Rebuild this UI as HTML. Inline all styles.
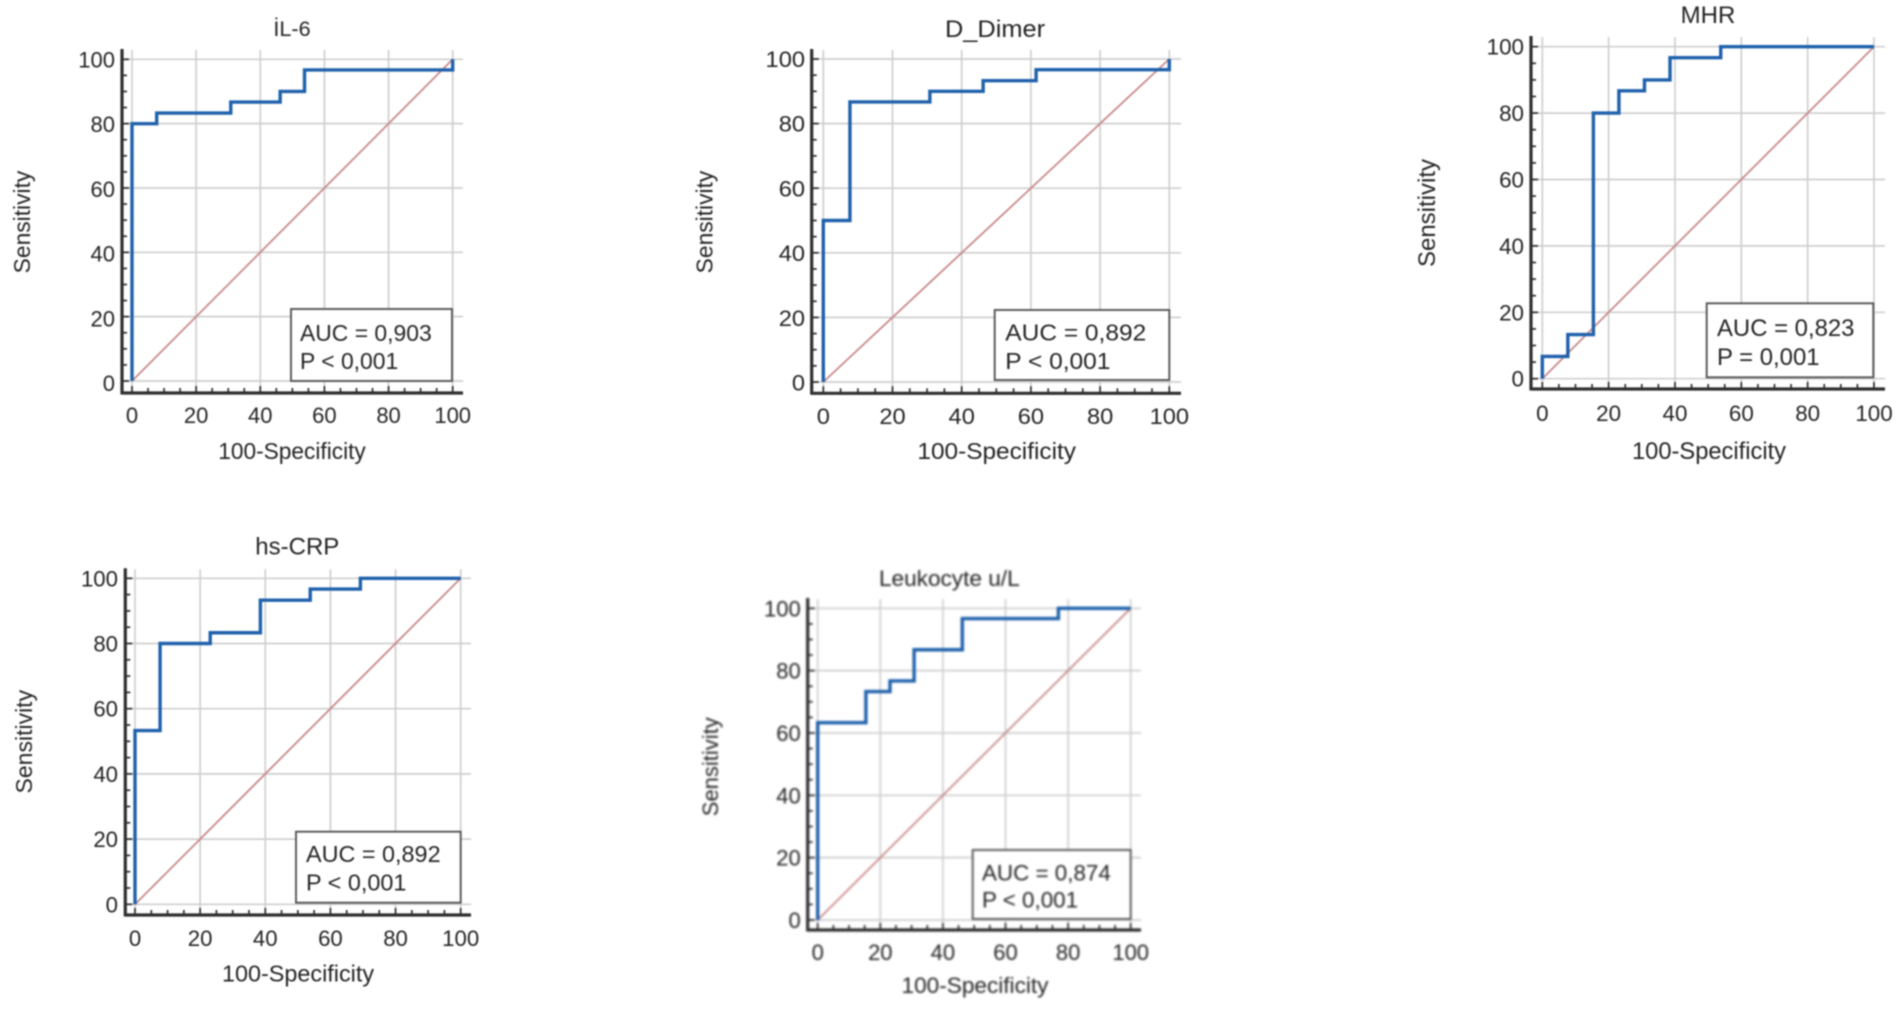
<!DOCTYPE html>
<html lang="en">
<head>
<meta charset="utf-8">
<title>ROC curves</title>
<style>
html,body{margin:0;padding:0;background:#fff;width:1902px;height:1010px;overflow:hidden}
#figure{display:block}
text{font-family:"Liberation Sans",Arial,sans-serif;fill:#242424}
</style>
</head>
<body>
<svg id="figure" xmlns="http://www.w3.org/2000/svg" width="1902" height="1010" viewBox="0 0 1902 1010"></svg>
<script>
// Data
const xTickLabels = [0, 20, 40, 60, 80, 100];
const yTickLabels = [0, 20, 40, 60, 80, 100];
const xAxisTitle = "100-Specificity";
const yAxisTitle = "Sensitivity";

const il6Fpr = [0, 7.7, 30.8, 46.2, 53.8, 100];
const il6Sens = [80, 83.3, 86.7, 90, 96.7, 100];
const dimerFpr = [0, 7.7, 30.8, 46.2, 61.5, 100];
const dimerSens = [50, 86.7, 90, 93.3, 96.7, 100];
const mhrFpr = [0, 7.7, 15.4, 23.1, 30.8, 38.5, 53.8];
const mhrSens = [6.7, 13.3, 80, 86.7, 90, 96.7, 100];
const crpFpr = [0, 7.7, 23.1, 38.5, 53.8, 69.2];
const crpSens = [53.3, 80, 83.3, 93.3, 96.7, 100];
const leukFpr = [0, 15.4, 23.1, 30.8, 46.2, 76.9];
const leukSens = [63.3, 73.3, 76.7, 86.7, 96.7, 100];

const il6Stats = ["AUC = 0,903", "P < 0,001"];
const dimerStats = ["AUC = 0,892", "P < 0,001"];
const mhrStats = ["AUC = 0,823", "P = 0,001"];
const crpStats = ["AUC = 0,892", "P < 0,001"];
const leukStats = ["AUC = 0,874", "P < 0,001"];

// Panel geometry
const panels = [
  {key:"il6", title:"İL-6", fpr:il6Fpr, sens:il6Sens, stats:il6Stats, fs:22.9, sx:1, blur:0.8,
   titleFs:21.6, ytFs:22.8, xtFs:22.7, tickFs:22, ylDrift:2.2,
   x0:132, x100:452.7, y0:381, y100:59.3, axL:122, axT:49, axB:393, axR:463,
   box:[291,309,452,381], statX:300, statY:[341,369], titleX:292, titleY:36,
   xtX:292, xtY:459, ytX:30, ytY:222, xlY:423, ylR:115, ylDy:8},
  {key:"d-dimer", title:"D_Dimer", fpr:dimerFpr, sens:dimerSens, stats:dimerStats, fs:22.8, sx:1.075, blur:0.8,
   titleFs:23.6, ytFs:22.8, xtFs:22.7, tickFs:22, ylDrift:0.6,
   x0:823.3, x100:1169.3, y0:382, y100:59, axL:811.7, axT:49, axB:393.3, axR:1181,
   box:[994.7,310,1169.3,380], statX:1005.3, statY:[340.7,369], titleX:995, titleY:37,
   xtX:996.7, xtY:459, ytX:712.5, ytY:222, xlY:424, ylR:805, ylDy:8},
  {key:"mhr", title:"MHR", fpr:mhrFpr, sens:mhrSens, stats:mhrStats, fs:23.9, sx:1, blur:0.8,
   titleFs:24, ytFs:24, xtFs:23.7, tickFs:22.4, ylDrift:0,
   x0:1542.3, x100:1874, y0:378.7, y100:46.7, axL:1531, axT:36, axB:389, axR:1885,
   box:[1706.7,303.3,1873.3,377.3], statX:1717, statY:[336,365], titleX:1708, titleY:23,
   xtX:1709, xtY:459, ytX:1435, ytY:213, xlY:421, ylR:1524, ylDy:8},
  {key:"hs-crp", title:"hs-CRP", fpr:crpFpr, sens:crpSens, stats:crpStats, fs:23.4, sx:1, blur:0.8,
   titleFs:24, ytFs:23, xtFs:23.4, tickFs:22.2, ylDrift:0,
   x0:135, x100:460.7, y0:904.3, y100:578.3, axL:125.3, axT:568.3, axB:915, axR:471,
   box:[296,831.7,460.7,902.7], statX:306, statY:[862,890.7], titleX:297.3, titleY:554.7,
   xtX:298, xtY:981.7, ytX:32, ytY:741.7, xlY:946, ylR:118, ylDy:8},
  {key:"leukocyte", title:"Leukocyte u/L", fpr:leukFpr, sens:leukSens, stats:leukStats, fs:22.4, sx:1, blur:1.05,
   titleFs:22.6, ytFs:22, xtFs:22.6, tickFs:22, ylDrift:0,
   x0:817.7, x100:1130.7, y0:920, y100:608.3, axL:807.7, axT:598, axB:930, axR:1141,
   box:[972.7,850,1130.7,919], statX:982, statY:[880.7,907.3], titleX:949.3, titleY:586,
   xtX:975, xtY:993, ytX:718, ytY:766.7, xlY:960, ylR:800.7, ylDy:8}
];

const NS = "http://www.w3.org/2000/svg";
const root = document.getElementById("figure");

function make(tag, parent, attrs, content) {
  const el = document.createElementNS(NS, tag);
  for (const k in attrs) el.setAttribute(k, attrs[k]);
  if (content !== undefined) el.textContent = content;
  parent.appendChild(el);
  return el;
}

function drawPanel(p) {
  const xScale = v => p.x0 + (p.x100 - p.x0) * v / 100;
  const yScale = v => p.y0 + (p.y100 - p.y0) * v / 100;
  const place = (x, y) => "translate(" + x + " " + y + ") scale(" + p.sx + " 1)";

  const g = make("g", root, {style:"filter:blur(" + p.blur + "px)"});
  
  

  const title = make("text", g, {transform:place(p.titleX, p.titleY), "text-anchor":"middle", "font-size":p.titleFs}, p.title);
  
  

  // Grid
  const grid = make("g", g, {stroke:"#cfcfcf", "stroke-width":1.7, fill:"none"});
  
  
  xTickLabels.forEach(v => make("line", grid, {x1:xScale(v), x2:xScale(v), y1:p.axT + 1, y2:p.axB}));
  yTickLabels.forEach(v => make("line", grid, {x1:p.axL, x2:p.axR, y1:yScale(v), y2:yScale(v)}));

  // Diagonal reference line
  const diag = make("line", g, {x1:xScale(0), y1:yScale(0), x2:xScale(100), y2:yScale(100), stroke:"#c98a8a", "stroke-width":1.8});
  
  

  // ROC step curve
  let d = "M" + xScale(0) + " " + yScale(0);
  p.fpr.forEach((f, i) => {
    d += " V" + yScale(p.sens[i]);
    const next = i + 1 < p.fpr.length ? p.fpr[i + 1] : 100;
    d += " H" + xScale(next);
  });
  d += " V" + yScale(100);
  const curve = make("path", g, {d:d, fill:"none", stroke:"#1f61ab", "stroke-width":3.4, "stroke-linejoin":"miter"});
  
  

  // Axes
  const axes = make("g", g, {stroke:"#2e2e2e", fill:"none"});
  
  
  make("line", axes, {x1:p.axL, x2:p.axL, y1:p.axT, y2:p.axB + 1.5, "stroke-width":3.2});
  make("line", axes, {x1:p.axL, x2:p.axR, y1:p.axB, y2:p.axB, "stroke-width":3.2});
  for (let v = 0; v <= 100; v += 5) {
    const len = v % 20 === 0 ? 7 : 5;
    make("line", axes, {x1:xScale(v), x2:xScale(v), y1:p.axB, y2:p.axB - len, "stroke-width":1.7});
    make("line", axes, {x1:p.axL, x2:p.axL + len, y1:yScale(v), y2:yScale(v), "stroke-width":1.7});
  }

  // Tick labels
  xTickLabels.forEach(v => {
    const t = make("text", g, {transform:place(xScale(v), p.xlY), "text-anchor":"middle", "font-size":p.tickFs}, String(v));
    
    
  });
  yTickLabels.forEach(v => {
    const labelY = yScale(v) + p.ylDy + p.ylDrift * (1 - v / 100);
    const t = make("text", g, {transform:place(p.ylR, labelY), "text-anchor":"end", "font-size":p.tickFs}, String(v));
    
    
  });

  // Axis titles
  const xt = make("text", g, {transform:place(p.xtX, p.xtY), "text-anchor":"middle", "font-size":p.xtFs}, xAxisTitle);
  
  
  const yt = make("text", g, {x:p.ytX, y:p.ytY, "text-anchor":"middle", "font-size":p.ytFs, transform:"rotate(-90 " + p.ytX + " " + p.ytY + ")"}, yAxisTitle);
  
  

  // Stats box
  const bg = make("g", g, {});
  
  
  make("rect", bg, {x:p.box[0], y:p.box[1], width:p.box[2] - p.box[0], height:p.box[3] - p.box[1], fill:"#fff", stroke:"#555", "stroke-width":1.9});
  p.stats.forEach((line, i) => {
    make("text", bg, {transform:place(p.statX, p.statY[i]), "font-size":p.fs}, line);
  });
}

panels.forEach(drawPanel);
</script>
</body>
</html>
